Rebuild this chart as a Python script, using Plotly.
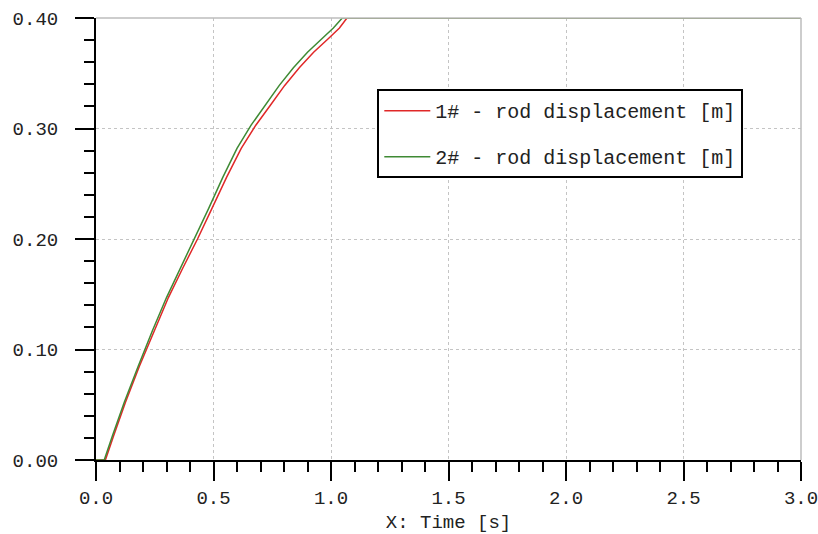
import plotly.graph_objects as go

# Rod displacement over time for two cylinders (time in s, displacement in m)
time_rod1 = [0.00, 0.040, 0.075, 0.125, 0.185, 0.247, 0.308, 0.370, 0.432, 0.494,
             0.556, 0.618, 0.680, 0.742, 0.803, 0.865, 0.926, 0.987, 1.036, 1.068, 3.00]
disp_rod1 = [0.000, 0.000, 0.022, 0.052, 0.085, 0.117, 0.147, 0.174, 0.200, 0.228,
             0.256, 0.282, 0.303, 0.321, 0.339, 0.355, 0.369, 0.381, 0.391, 0.400, 0.400]

time_rod2 = [0.00, 0.035, 0.070, 0.120, 0.180, 0.240, 0.300, 0.360, 0.420, 0.480,
             0.540, 0.600, 0.660, 0.720, 0.780, 0.840, 0.900, 0.960, 1.010, 1.048, 3.00]
disp_rod2 = [0.000, 0.000, 0.022, 0.052, 0.085, 0.117, 0.147, 0.174, 0.200, 0.228,
             0.256, 0.282, 0.303, 0.321, 0.339, 0.355, 0.369, 0.381, 0.391, 0.400, 0.400]

series_names = ["1# - rod displacement [m]", "2# - rod displacement [m]"]
series_colors = ["#e02828", "#3f8a34"]

x_ticks = [0.0, 0.5, 1.0, 1.5, 2.0, 2.5, 3.0]
y_ticks = [0.00, 0.10, 0.20, 0.30, 0.40]

MONO = "Liberation Mono, DejaVu Sans Mono, monospace"

fig = go.Figure()
for i, (tx, ty) in enumerate([(time_rod1, disp_rod1), (time_rod2, disp_rod2)]):
    fig.add_trace(go.Scatter(
        x=tx, y=ty, mode="lines", name=series_names[i],
        line=dict(color=series_colors[i], width=1.5),
        legendgroup=f"g{i}",
    ))

axis_common = dict(
    showline=True, linecolor="black", linewidth=2,
    ticks="outside", ticklen=19, tickwidth=2, tickcolor="black",
    showgrid=True, gridcolor="#c4c4c4", gridwidth=1, griddash="dot",
    zeroline=False, automargin=False, ticklabeloverflow="allow",
    tickfont=dict(family=MONO, size=19, color="#222222"),
)

fig.update_xaxes(
    range=[0, 3], tickvals=x_ticks, ticktext=[f"{v:.1f}" for v in x_ticks],
    minor=dict(dtick=0.1, tick0=0, ticklen=10, tickwidth=2, tickcolor="black",
               ticks="outside", showgrid=False),
    title=dict(text="X: Time [s]", font=dict(family=MONO, size=19, color="#222222"),
               standoff=6),
    **axis_common,
)
fig.update_yaxes(
    range=[0, 0.4], tickvals=y_ticks, ticktext=[f"{v:.2f}" for v in y_ticks],
    minor=dict(dtick=0.02, tick0=0, ticklen=10, tickwidth=2, tickcolor="black",
               ticks="outside", showgrid=False),
    ticklabelstandoff=13,
    **axis_common,
)

# light frame along the top and right edges of the plot area
fig.add_shape(type="line", xref="paper", yref="paper", x0=0, x1=1, y0=1, y1=1,
              line=dict(color="#bdbdbd", width=1.5))
fig.add_shape(type="line", xref="paper", yref="paper", x0=1, x1=1, y0=0, y1=1,
              line=dict(color="#bdbdbd", width=1.5))

fig.update_layout(
    width=818, height=534,
    margin=dict(l=96, r=17, t=18, b=74),
    plot_bgcolor="white", paper_bgcolor="white",
    showlegend=True,
    legend=dict(
        x=0.399, y=0.839, xanchor="left", yanchor="top",
        bgcolor="white", bordercolor="black", borderwidth=2,
        font=dict(family=MONO, size=20, color="#222222"),
        tracegroupgap=17, traceorder="grouped", itemwidth=46,
    ),
)

fig.write_html("out.html")
